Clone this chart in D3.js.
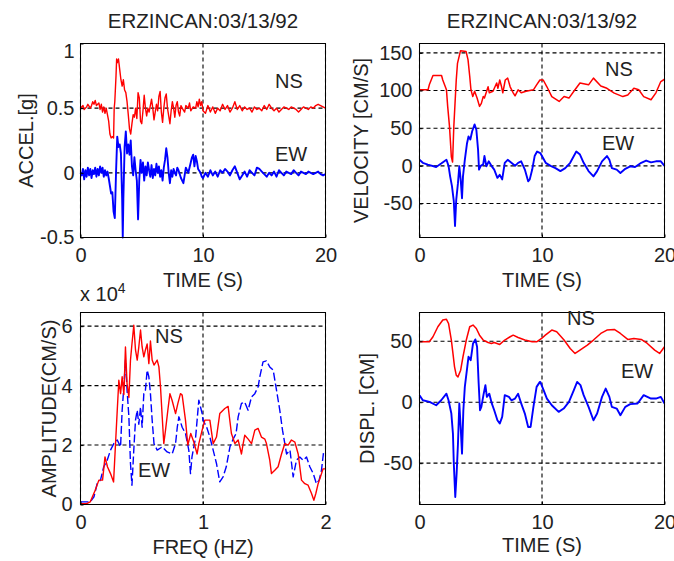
<!DOCTYPE html>
<html><head><meta charset="utf-8">
<script src="https://cdn.jsdelivr.net/npm/d3@7"></script>
<style>
html,body{margin:0;padding:0;background:#fff;}
svg{display:block;}
text{font-family:"Liberation Sans",Arial,sans-serif;fill:#222;}
</style></head>
<body>
<svg id="chart" width="674" height="561"></svg>
<script>
// ---------- DATA ----------
const titleText = "ERZINCAN:03/13/92";
const timeTicks = [0, 10, 20];
const freqTicks = [0, 1, 2];
const accTicks = [-0.5, 0, 0.5, 1];
const velTicks = [-50, 0, 50, 100, 150];
const ampTicks = [0, 2, 4, 6];
const dispTicks = [-50, 0, 50];
const seriesNames = ["NS", "EW"];

// acceleration [time s, g]
const accNS = [[0,0.50],[0.2,0.52],[0.3,0.49],[0.5,0.51],[0.6,0.53],[0.8,0.50],[0.9,0.52],[1.0,0.55],[1.1,0.53],[1.2,0.56],[1.3,0.52],[1.5,0.54],[1.6,0.49],[1.7,0.53],[1.8,0.47],[1.9,0.51],[2.0,0.46],[2.1,0.50],[2.2,0.45],[2.3,0.40],[2.4,0.30],[2.5,0.27],[2.6,0.28],[2.7,0.27],[2.75,0.50],[2.8,0.55],[2.9,0.75],[2.95,0.88],[3.0,0.85],[3.1,0.88],[3.2,0.80],[3.3,0.72],[3.4,0.67],[3.5,0.72],[3.6,0.64],[3.7,0.62],[3.8,0.55],[3.9,0.45],[4.0,0.34],[4.1,0.30],[4.2,0.38],[4.3,0.45],[4.4,0.43],[4.5,0.50],[4.6,0.42],[4.7,0.62],[4.8,0.58],[4.9,0.40],[5.0,0.38],[5.1,0.48],[5.2,0.60],[5.3,0.50],[5.4,0.44],[5.5,0.50],[5.6,0.47],[5.8,0.57],[5.9,0.50],[6.0,0.41],[6.1,0.47],[6.2,0.53],[6.3,0.48],[6.4,0.59],[6.5,0.63],[6.6,0.47],[6.7,0.39],[6.8,0.50],[6.9,0.58],[7.0,0.61],[7.1,0.50],[7.2,0.44],[7.3,0.38],[7.4,0.48],[7.5,0.55],[7.6,0.50],[7.7,0.43],[7.8,0.52],[7.9,0.55],[8.0,0.47],[8.1,0.44],[8.2,0.52],[8.3,0.50],[8.5,0.47],[8.6,0.52],[8.8,0.50],[8.9,0.54],[9.0,0.48],[9.2,0.51],[9.4,0.50],[9.5,0.55],[9.6,0.51],[9.7,0.57],[9.8,0.52],[9.9,0.55],[10.0,0.48],[10.2,0.46],[10.4,0.52],[10.6,0.47],[10.8,0.51],[11.0,0.46],[11.2,0.50],[11.4,0.48],[11.6,0.53],[11.8,0.49],[12.0,0.52],[12.2,0.47],[12.4,0.50],[12.6,0.55],[12.8,0.49],[13.0,0.52],[13.2,0.48],[13.4,0.51],[13.6,0.49],[13.8,0.50],[14.0,0.47],[14.2,0.51],[14.4,0.49],[14.6,0.50],[14.8,0.48],[15.0,0.52],[15.2,0.49],[15.4,0.53],[15.6,0.50],[15.8,0.48],[16.0,0.50],[16.2,0.47],[16.4,0.49],[16.6,0.51],[16.8,0.50],[17.0,0.49],[17.2,0.51],[17.4,0.50],[17.6,0.49],[17.8,0.47],[18.0,0.49],[18.2,0.51],[18.4,0.50],[18.6,0.49],[18.8,0.51],[19.0,0.50],[19.2,0.52],[19.4,0.53],[19.6,0.52],[19.8,0.51],[20.0,0.50]];
const accEW = [[0,0.00],[0.1,-0.02],[0.2,0.03],[0.3,-0.05],[0.4,0.02],[0.5,-0.03],[0.6,0.04],[0.7,-0.02],[0.8,0.03],[0.9,-0.04],[1.0,0.02],[1.1,-0.01],[1.2,0.04],[1.3,-0.03],[1.4,0.03],[1.5,-0.02],[1.6,0.05],[1.7,0.00],[1.8,0.04],[1.9,-0.03],[2.0,0.02],[2.1,-0.02],[2.2,0.01],[2.3,-0.04],[2.4,-0.10],[2.5,-0.16],[2.6,-0.15],[2.7,-0.30],[2.8,-0.35],[2.9,0.00],[3.0,0.28],[3.1,0.20],[3.2,0.22],[3.3,0.15],[3.4,-0.20],[3.45,-0.50],[3.5,-0.20],[3.6,0.20],[3.7,0.32],[3.8,0.15],[3.9,0.22],[4.0,0.14],[4.1,0.25],[4.2,0.05],[4.3,-0.02],[4.4,0.12],[4.5,0.02],[4.6,-0.06],[4.7,-0.36],[4.8,-0.05],[4.9,0.10],[5.0,0.00],[5.1,0.08],[5.2,-0.06],[5.3,0.05],[5.4,-0.02],[5.5,0.08],[5.6,0.02],[5.7,-0.03],[5.8,0.06],[5.9,-0.04],[6.0,0.03],[6.1,-0.02],[6.2,0.07],[6.3,0.00],[6.4,0.05],[6.5,-0.03],[6.6,0.02],[6.7,-0.06],[6.8,0.04],[6.9,0.10],[7.0,0.19],[7.1,0.12],[7.2,0.00],[7.3,-0.08],[7.4,0.02],[7.5,-0.03],[7.6,0.03],[7.7,0.00],[7.8,-0.02],[7.9,0.04],[8.0,0.02],[8.2,-0.04],[8.4,-0.08],[8.5,-0.02],[8.6,0.04],[8.8,0.00],[9.0,0.08],[9.1,0.12],[9.2,0.14],[9.3,0.05],[9.4,0.13],[9.5,0.09],[9.6,0.03],[9.8,0.00],[9.9,-0.03],[10.0,-0.04],[10.2,0.00],[10.4,-0.03],[10.6,0.02],[10.8,-0.02],[11.0,0.01],[11.2,-0.03],[11.4,0.02],[11.6,0.00],[11.8,0.03],[12.0,0.01],[12.2,-0.02],[12.4,0.02],[12.6,0.05],[12.8,0.00],[13.0,-0.05],[13.2,-0.02],[13.4,0.01],[13.6,-0.03],[13.8,0.02],[14.0,0.00],[14.2,-0.02],[14.4,0.04],[14.6,0.03],[14.8,0.01],[15.0,-0.01],[15.2,-0.03],[15.4,0.00],[15.6,-0.02],[15.8,0.01],[16.0,-0.03],[16.2,0.02],[16.4,0.00],[16.6,-0.02],[16.8,0.01],[17.0,0.00],[17.2,-0.01],[17.4,0.02],[17.6,0.00],[17.8,-0.02],[18.0,0.01],[18.2,0.00],[18.4,-0.01],[18.6,0.01],[18.8,0.00],[19.0,-0.01],[19.2,0.00],[19.4,0.01],[19.6,-0.01],[19.8,-0.02],[20.0,-0.01]];

// velocity [time s, cm/s]
const velNS = [[0,101],[0.7,101],[0.8,107.6],[1.1,120],[1.8,120],[1.9,114],[2.2,101],[2.3,79],[2.45,52],[2.6,12],[2.7,5],[2.8,52],[3.0,114],[3.1,136],[3.35,153],[3.8,152],[3.96,141],[4.1,119],[4.2,101],[4.35,92],[4.5,99],[4.7,90],[4.9,79],[5.05,83],[5.2,92],[5.3,90],[5.6,105],[5.7,97],[6.0,99],[6.3,110],[6.4,103],[6.55,114],[6.7,105],[6.8,97],[7.0,114],[7.2,116.5],[7.4,105],[7.65,97],[7.8,93],[8.05,101],[8.3,97],[8.7,99],[9.3,101],[9.56,107.6],[9.83,114],[10.1,114],[10.4,105],[10.8,92],[11.4,85.5],[11.8,92],[12.2,90],[12.6,99],[13.1,110],[13.8,107.6],[14.2,116.5],[14.8,106],[15.3,103],[15.9,96.6],[16.6,92],[17.0,94],[17.5,103],[17.9,101],[18.3,92],[18.9,87.8],[19.3,97],[19.7,112],[20.0,115]];
const velEW = [[0,8],[0.27,4],[0.68,1.6],[1.36,-1.5],[1.77,3],[2.2,8],[2.37,0],[2.5,-14],[2.65,-27],[2.8,-47],[2.9,-80],[3.0,-45],[3.14,-23],[3.25,-0.6],[3.36,-18],[3.47,-43],[3.55,-14],[3.7,8],[3.88,30],[4.0,39],[4.15,35],[4.3,46],[4.5,55],[4.64,48],[4.78,21.5],[4.86,-5],[5.0,0],[5.2,2],[5.3,13],[5.46,-0.6],[5.65,6],[5.87,0],[6.1,-5],[6.36,-16],[6.55,-12],[6.75,-18],[6.96,4],[7.2,8],[7.5,4],[7.8,0],[8.05,4],[8.3,6],[8.6,-5],[8.87,-20.5],[9.0,-18],[9.2,-5],[9.4,13],[9.6,19],[9.86,17],[10.3,4],[10.7,0],[11.1,-3],[11.5,-7],[11.9,-3],[12.3,4],[12.6,13],[12.8,19],[13.1,15],[13.4,4],[13.8,-7],[14.2,-14],[14.5,-7],[14.9,6],[15.3,13],[15.5,8],[15.7,-3],[16.1,-5],[16.4,-9.5],[16.8,-4],[17.2,-0.6],[17.6,-1.5],[18.1,4],[18.5,7],[18.9,4.6],[19.3,6],[19.7,6],[20.0,0]];

// Fourier amplitude [freq Hz, amplitude x 10^4 cm/s]
const specNS = [[0,0.03],[0.05,0.03],[0.08,0.09],[0.12,0.48],[0.15,0.82],[0.18,0.82],[0.2,1.6],[0.22,1.27],[0.245,1.04],[0.27,0.76],[0.286,2.05],[0.3,3.17],[0.313,4.18],[0.327,3.73],[0.34,4.3],[0.354,3.7],[0.367,5.3],[0.38,4.07],[0.395,3.6],[0.408,4.86],[0.42,5.4],[0.435,6.03],[0.449,5.2],[0.463,4.86],[0.476,5.3],[0.49,5.87],[0.503,5.3],[0.517,4.97],[0.53,5.2],[0.544,5.4],[0.558,4.74],[0.571,5.5],[0.585,4.86],[0.6,4.69],[0.626,4.86],[0.64,4.63],[0.653,3.96],[0.667,2.95],[0.68,2.05],[0.694,2.5],[0.713,3.17],[0.73,3.73],[0.748,3.5],[0.776,3.06],[0.795,3.4],[0.816,3.73],[0.83,3.68],[0.857,2.84],[0.876,2.0],[0.9,2.39],[0.925,2.1],[0.952,1.7],[0.966,2.05],[0.993,2.5],[1.015,2.84],[1.056,2.84],[1.083,2.05],[1.11,2.27],[1.137,3.06],[1.178,3.23],[1.205,3.3],[1.232,2.39],[1.26,2.05],[1.287,2.17],[1.314,1.7],[1.328,2.05],[1.341,2.33],[1.369,2.2],[1.396,2.05],[1.423,2.5],[1.45,2.56],[1.477,2.27],[1.505,2.2],[1.518,2.05],[1.545,1.49],[1.559,1.04],[1.586,1.15],[1.613,1.27],[1.641,1.7],[1.668,2.05],[1.695,2.0],[1.722,2.17],[1.75,2.1],[1.777,1.7],[1.804,0.82],[1.831,0.7],[1.858,0.65],[1.886,0.37],[1.905,0.14],[1.921,0.37],[1.94,0.7],[1.959,0.93],[1.98,1.2],[2.0,1.2]];
const specEW = [[0,0.09],[0.08,0.09],[0.11,0.26],[0.136,0.7],[0.163,0.82],[0.19,1.27],[0.218,1.49],[0.245,1.83],[0.272,2.05],[0.3,2.17],[0.327,1.94],[0.34,3.17],[0.354,3.96],[0.367,4.86],[0.38,3.85],[0.395,2.95],[0.408,1.38],[0.42,0.65],[0.435,1.83],[0.449,2.84],[0.463,3.17],[0.476,2.7],[0.49,3.28],[0.503,2.6],[0.517,3.73],[0.53,3.85],[0.544,4.52],[0.558,4.3],[0.571,3.73],[0.585,2.84],[0.6,2.05],[0.626,1.83],[0.667,1.94],[0.707,1.77],[0.748,1.7],[0.776,2.05],[0.79,2.6],[0.803,2.95],[0.83,2.6],[0.857,2.39],[0.884,1.83],[0.898,1.04],[0.91,1.6],[0.94,2.27],[0.966,3.51],[0.993,3.06],[1.0,2.84],[1.03,2.6],[1.056,2.27],[1.083,1.83],[1.11,1.38],[1.137,0.76],[1.164,0.93],[1.19,1.27],[1.22,1.94],[1.246,2.2],[1.27,2.39],[1.287,2.95],[1.314,3.4],[1.34,3.45],[1.368,3.17],[1.396,3.62],[1.423,3.73],[1.45,3.96],[1.464,4.3],[1.49,4.8],[1.518,4.83],[1.545,4.63],[1.573,4.52],[1.6,3.85],[1.627,3.17],[1.649,2.5],[1.668,2.05],[1.682,1.7],[1.71,1.83],[1.736,0.93],[1.763,1.49],[1.79,1.6],[1.818,1.49],[1.845,1.6],[1.872,1.27],[1.9,1.04],[1.926,0.7],[1.948,0.82],[1.967,1.15],[1.986,1.83]];

// displacement [time s, cm]
const dispNS = [[0,49.6],[0.8,49.6],[1.1,53.7],[1.5,61.9],[1.9,67.4],[2.2,68],[2.37,64.6],[2.6,51],[2.73,40],[2.86,29],[3.0,22.2],[3.14,20.8],[3.36,26.3],[3.55,37.3],[3.82,51],[4.1,61.9],[4.37,63.3],[4.64,60.5],[4.9,55],[5.2,51],[5.6,49],[5.87,48.2],[6.1,49],[6.55,47.4],[6.96,51],[7.4,53.7],[7.65,55],[8.05,53.1],[8.6,51],[9.2,49.6],[9.56,49.6],[9.97,52.3],[10.27,55],[10.8,59.2],[11.2,57.8],[11.8,51],[12.3,44.1],[12.7,40],[13.1,42.7],[13.7,46.8],[14.2,51],[14.8,56.4],[15.3,59.2],[15.9,59.7],[16.4,56.4],[17.0,51.5],[17.5,52.3],[18.1,51.5],[18.6,48.2],[19.2,42.7],[19.6,40],[20.0,45.5]];
const dispEW = [[0,5.8],[0.27,1.6],[0.82,0.3],[1.36,-2.5],[1.77,1.6],[2.2,7],[2.37,1.6],[2.6,-9.3],[2.73,-25.7],[2.8,-50],[2.92,-77.8],[3.03,-58.6],[3.14,-34],[3.25,-1],[3.36,-20.3],[3.47,-42.2],[3.58,-6.6],[3.7,12.6],[3.9,29],[4.0,37.3],[4.18,34.5],[4.37,48.2],[4.56,51.5],[4.7,45.5],[4.83,15.3],[4.94,-6.6],[5.05,-3.8],[5.24,7],[5.38,14],[5.5,4.4],[5.7,7],[5.9,-1],[6.1,-6.6],[6.36,-14.8],[6.55,-17.5],[6.75,-12],[6.96,5.8],[7.3,4.4],[7.5,1.6],[7.8,3],[8.05,7],[8.3,-1],[8.6,-9.3],[8.87,-20.3],[9.07,-20.3],[9.3,-3.8],[9.56,12.6],[9.83,16.7],[9.86,16.7],[10.13,9.9],[10.4,3],[10.8,-2.5],[11.36,-7.9],[11.77,-5.2],[12.2,0.3],[12.6,9.9],[12.87,16.7],[13.14,14],[13.4,5.8],[13.8,-3.8],[14.2,-14.8],[14.5,-9.3],[14.9,4.4],[15.2,11.2],[15.5,4.4],[15.7,-3.8],[16.1,-5.2],[16.4,-10.7],[16.8,-3.8],[17.2,-1.6],[17.8,-1],[18.3,5.8],[18.9,3],[19.3,3],[19.7,4.4],[20.0,-1]];

// ---------- DRAW ----------
const svg = d3.select("#chart");
const FS = 20;
const fmt = d => String(d);

function panel(o) {
  const g = svg.append("g");
  const x = d3.scaleLinear().domain(o.xDomain).range([o.l, o.r]);
  const y = d3.scaleLinear().domain(o.yDomain).range([o.b, o.t]);

  // grid
  const grid = g.append("g").attr("stroke", "#000").attr("stroke-width", 1.1)
    .attr("stroke-dasharray", "4,3").attr("fill", "none");
  o.xTicks.forEach(v => grid.append("line").attr("x1", x(v)).attr("x2", x(v)).attr("y1", o.t).attr("y2", o.b));
  o.yTicks.forEach(v => grid.append("line").attr("x1", o.l).attr("x2", o.r).attr("y1", y(v)).attr("y2", y(v)));

  // series
  const line = d3.line().x(d => x(d[0])).y(d => y(d[1]));
  o.series.forEach(s => {
    g.append("path").datum(s.data).attr("d", line).attr("fill", "none")
      .attr("stroke", s.color).attr("stroke-width", s.width)
      .attr("stroke-linejoin", "round")
      .attr("stroke-dasharray", s.dash || null);
  });

  // box
  g.append("rect").attr("x", o.l).attr("y", o.t).attr("width", o.r - o.l).attr("height", o.b - o.t)
    .attr("fill", "none").attr("stroke", "#000").attr("stroke-width", 1);

  // axes
  const ax = g.append("g").attr("transform", `translate(0,${o.b})`)
    .call(d3.axisBottom(x).tickValues(o.xTicks).tickSizeInner(-3).tickSizeOuter(0).tickPadding(10).tickFormat(fmt));
  const ay = g.append("g").attr("transform", `translate(${o.l},0)`)
    .call(d3.axisLeft(y).tickValues(o.yTicks).tickSizeInner(-3).tickSizeOuter(0).tickPadding(o.pad).tickFormat(fmt));
  [ax, ay].forEach(a => {
    a.select(".domain").remove();
    a.selectAll("text").attr("font-size", FS).attr("font-family", '"Liberation Sans",Arial,sans-serif').attr("fill", "#222");
    a.selectAll("line").attr("stroke", "#000");
  });
  // keep the top y tick label inside the box height (as the source does)
  ay.selectAll(".tick").each(function(d) {
    const yy = y(d);
    if (yy - 7.5 < o.t) d3.select(this).select("text").attr("y", o.t + 7.5 - yy);
  });

  // labels
  if (o.title) g.append("text").attr("x", (o.l + o.r) / 2).attr("y", 28).attr("text-anchor", "middle")
    .attr("font-size", 20.5).text(o.title);
  g.append("text").attr("x", (o.l + o.r) / 2).attr("y", o.xLabY).attr("text-anchor", "middle")
    .attr("font-size", FS).text(o.xLabel);
  g.append("text").attr("transform", `translate(${o.yLabX},${(o.t + o.b) / 2}) rotate(-90)`)
    .attr("text-anchor", "middle").attr("font-size", FS).text(o.yLabel);
  o.names.forEach(n => g.append("text").attr("x", n.x).attr("y", n.y).attr("font-size", FS).text(n.text));
  return g;
}

panel({
  l: 80.5, r: 325.5, t: 43.5, b: 237.5, xDomain: [0, 20], yDomain: [-0.5, 1],
  xTicks: timeTicks, yTicks: accTicks, pad: 6, title: titleText,
  xLabel: "TIME (S)", xLabY: 286.5, yLabel: "ACCEL.[g]", yLabX: 33,
  series: [{data: accNS, color: "#ff0000", width: 1.4}, {data: accEW, color: "#0000ff", width: 1.9}],
  names: [{text: seriesNames[0], x: 275, y: 88}, {text: seriesNames[1], x: 275, y: 161}]
});

panel({
  l: 419.5, r: 664.5, t: 43.5, b: 237.5, xDomain: [0, 20], yDomain: [-95.2, 162.5],
  xTicks: timeTicks, yTicks: velTicks, pad: 7, title: titleText,
  xLabel: "TIME (S)", xLabY: 286.5, yLabel: "VELOCITY [CM/S]", yLabX: 368,
  series: [{data: velNS, color: "#ff0000", width: 1.5}, {data: velEW, color: "#0000ff", width: 1.9}],
  names: [{text: seriesNames[0], x: 605, y: 76}, {text: seriesNames[1], x: 602, y: 150}]
});

const p3 = panel({
  l: 80.5, r: 325.5, t: 312.5, b: 504.5, xDomain: [0, 2], yDomain: [0, 6.46],
  xTicks: freqTicks, yTicks: ampTicks, pad: 8, title: null,
  xLabel: "FREQ (HZ)", xLabY: 554, yLabel: "AMPLITUDE(CM/S)", yLabX: 56,
  series: [{data: specEW, color: "#0000ff", width: 1.4, dash: "8,3"}, {data: specNS, color: "#ff0000", width: 1.4}],
  names: [{text: seriesNames[0], x: 155, y: 343}, {text: seriesNames[1], x: 138, y: 476.5}]
});
const expo = p3.append("text").attr("x", 80).attr("y", 301).attr("font-size", FS);
expo.append("tspan").text("x 10");
expo.append("tspan").attr("dy", -8).attr("font-size", 14).text("4");

panel({
  l: 419.5, r: 664.5, t: 312.5, b: 504.5, xDomain: [0, 20], yDomain: [-83.9, 73.6],
  xTicks: timeTicks, yTicks: dispTicks, pad: 7, title: null,
  xLabel: "TIME (S)", xLabY: 552, yLabel: "DISPL. [CM]", yLabX: 374,
  series: [{data: dispNS, color: "#ff0000", width: 1.5}, {data: dispEW, color: "#0000ff", width: 1.9}],
  names: [{text: seriesNames[0], x: 567, y: 325}, {text: seriesNames[1], x: 621, y: 378}]
});
</script>
</body></html>
